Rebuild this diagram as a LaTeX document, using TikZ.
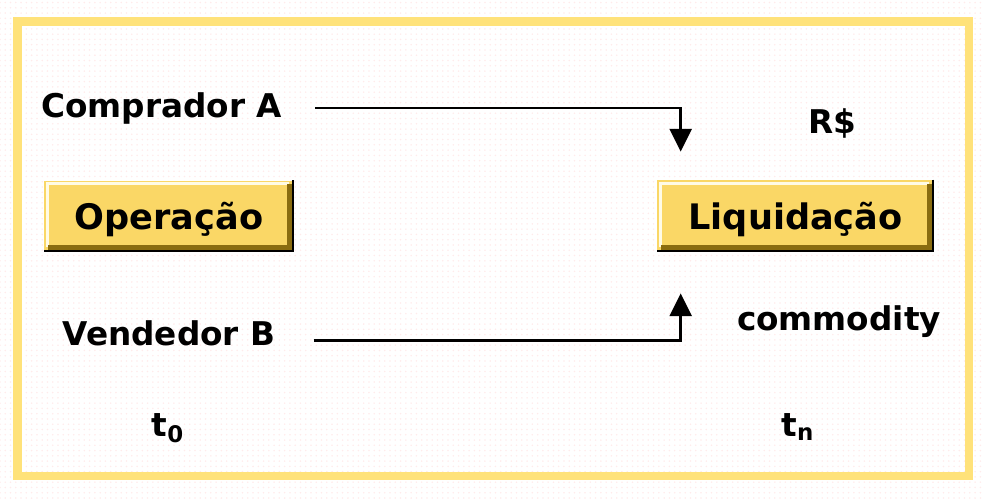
\documentclass[tikz,border=0pt]{standalone}
\usepackage{fontspec}
\setmainfont{DejaVu Sans}
\usetikzlibrary{arrows.meta,patterns}
\definecolor{frameyel}{HTML}{FFE27A}
\definecolor{btnyel}{HTML}{FAD766}
\definecolor{btnshade}{HTML}{8A6C10}
\definecolor{btnlight}{HTML}{FFFBE6}
\tikzset{
  lbl/.style={font=\bfseries\fontsize{18.6}{20}\selectfont, inner sep=0pt, anchor=base},
  btn/.style={fill=btnyel, inner sep=0pt, text depth=0pt, font=\bfseries\fontsize{20}{22}\selectfont},
  conn/.style={line width=1.6pt, -{Triangle[width=12.5pt,length=13pt]}},
}
\begin{document}
\begin{tikzpicture}[x=0.02cm,y=-0.02cm]
    \useasboundingbox (0,0) rectangle (984,498);

    % dotted background and yellow frame
    \fill[pattern=dots, pattern color=red!8] (0,0) rectangle (984,498);
    \draw[frameyel, line width=4.8pt] (17.5,21.5) rectangle (969,476);

    % buttons
    \node[btn, minimum width=5cm, minimum height=1.42cm] (op) at (169,216) {Operação};
    \node[btn, minimum width=5.54cm, minimum height=1.44cm] (liq) at (795.5,216) {Liquidação};

    % bevel of the buttons
    \foreach \b in {op,liq} {
        \draw[btnlight, line width=1.7pt] ([shift={(3.5,-5)}]\b.south west) -- ([shift={(3.5,3.5)}]\b.north west) -- ([shift={(-5,3.5)}]\b.north east);
        \draw[btnshade, line width=2.8pt] ([shift={(-4.5,4)}]\b.north east) -- ([shift={(-4.5,-4.5)}]\b.south east) -- ([shift={(4,-4.5)}]\b.south west);
        \draw[black, line width=1.1pt] ([shift={(-1,0)}]\b.north east) -- ([shift={(-1,-1)}]\b.south east) -- ([shift={(0,-1)}]\b.south west);
    }

    % labels
    \node[lbl] (compA) at (161.5,117) {Comprador A};
    \node[lbl] (vendB) at (169,345) {Vendedor B};
    \node[lbl] (rs) at (832,133) {R\$};
    \node[lbl] (comm) at (839,330) {commodity};
    \node[lbl] (t0) at (168,436) {t\textsubscript{0}};
    \node[lbl] (tn) at (798,436) {t\textsubscript{n}};

    % flows into the settlement
    \draw[conn, shorten <=0.66cm, shorten >=0.56cm] (compA.east) -| ([xshift=0.48cm]liq.north west);
    \draw[conn, shorten <=0.76cm, shorten >=0.82cm] ([yshift=-0.16cm]vendB.east) -| ([xshift=0.48cm]liq.south west);

\end{tikzpicture}
\end{document}
